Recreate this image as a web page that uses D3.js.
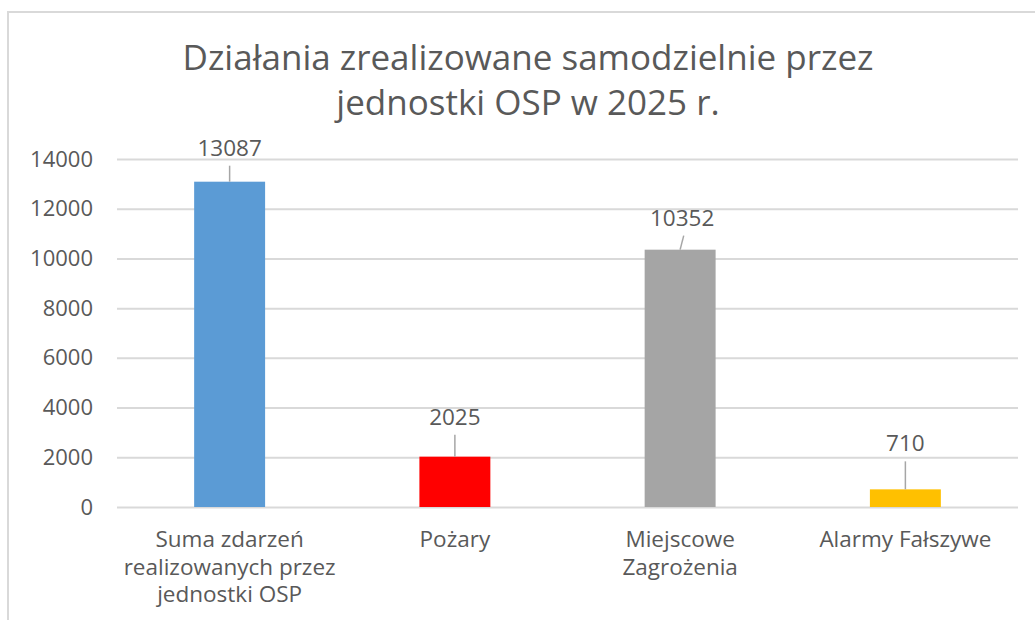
<!DOCTYPE html>
<html>
<head>
<meta charset="utf-8">
<script src="https://cdn.jsdelivr.net/npm/d3@7"></script>
<style>
    html, body { margin: 0; padding: 0; background: #fff; }
    #chart { width: 1035px; height: 620px; }
    text { font-family: "Open Sans", Lato, sans-serif; fill: #595959; }
</style>
</head>
<body>
<div id="chart"></div>
<script>
//Datos
const categorias = ['Suma zdarzeń realizowanych przez jednostki OSP', 'Pożary', 'Miejscowe Zagrożenia', 'Alarmy Fałszywe'];
const etiquetasEje = [['Suma zdarzeń', 'realizowanych przez', 'jednostki OSP'], ['Pożary'], ['Miejscowe', 'Zagrożenia'], ['Alarmy Fałszywe']];
const valores = [13087, 2025, 10352, 710];
const ticksY = [0, 2000, 4000, 6000, 8000, 10000, 12000, 14000];
const titulo = ['Działania zrealizowane samodzielnie przez', 'jednostki OSP w 2025 r.'];

const COLORES = ['#5B9BD5', '#FF0000', '#A5A5A5', '#FFC000'];
const FUENTE = '"Open Sans", Lato, sans-serif';
//Posición de las etiquetas (px sobre la barra) y desplazamiento horizontal
const subidaEtiqueta = [26, 32, 24, 38];
const desvioEtiqueta = [0, 0, 4, 0];

let margin = {top: 159, right: 17, bottom: 113, left: 117},
    width = 1035 - margin.left - margin.right,
    height = 620 - margin.top - margin.bottom;

let root = d3.select('#chart')
    .append('svg')
    .attr('width', 1035)
    .attr('height', 620);

//Marco
root.append('rect')
    .attr('x', 8).attr('y', 12)
    .attr('width', 1060).attr('height', 640)
    .attr('fill', 'none')
    .attr('stroke', '#D9D9D9')
    .attr('stroke-width', 2);

//Título
root.append('text')
    .attr('text-anchor', 'middle')
    .attr('font-size', 35)
    .selectAll('tspan')
    .data(titulo)
    .enter()
    .append('tspan')
    .attr('x', 528)
    .attr('y', function(d, i) { return 70 + i * 45; })
    .text(function(d) { return d; });

let svg = root.append('g')
    .attr('transform', 'translate(' + margin.left + ',' + margin.top + ')');

//Eje Y
let y = d3.scaleLinear()
    .domain([0, 14000])
    .range([height, 0]);

let yAxis = function(g) {
    g.call(d3.axisLeft(y).tickValues(ticksY).tickFormat(d3.format('d')).tickSize(-width).tickPadding(24));
    g.select('.domain').remove();
    g.selectAll('.tick line').attr('stroke', '#D9D9D9').attr('stroke-width', 2);
    g.selectAll('.tick text').attr('font-size', 22).attr('fill', '#595959').attr('font-family', FUENTE);
};

svg.append('g')
    .attr('class', 'yaxis')
    .call(yAxis);

//Eje X
let x = d3.scaleBand()
    .domain(categorias)
    .range([0, width])
    .paddingInner(0.685)
    .paddingOuter(0.3425);

let xAxis = function(g) {
    g.call(d3.axisBottom(x).tickSize(0).tickFormat(''));
    g.select('.domain').remove();
    g.selectAll('.tick').each(function(d, i) {
        let t = d3.select(this).append('text')
            .attr('text-anchor', 'middle')
            .attr('font-size', 22.5)
            .attr('fill', '#595959');
        t.selectAll('tspan')
            .data(etiquetasEje[i])
            .enter()
            .append('tspan')
            .attr('x', 0)
            .attr('y', function(l, j) { return 40 + j * 27.5; })
            .text(function(l) { return l; });
    });
};

svg.append('g')
    .attr('transform', 'translate(0,' + height + ')')
    .call(xAxis);

//Barras
svg.append('g')
    .selectAll('rect')
    .data(valores)
    .enter()
    .append('rect')
    .attr('x', function(d, i) { return x(categorias[i]); })
    .attr('y', function(d) { return y(d); })
    .attr('width', x.bandwidth())
    .attr('height', function(d) { return height - y(d); })
    .attr('fill', function(d, i) { return COLORES[i]; });

//Líneas guía y etiquetas
let etiquetas = svg.append('g');

valores.forEach(function(d, i) {
    let cx = x(categorias[i]) + x.bandwidth() / 2;
    let top = y(d);
    let base = top - subidaEtiqueta[i];
    etiquetas.append('line')
        .attr('x1', cx + desvioEtiqueta[i] * 0.9)
        .attr('y1', base + 10)
        .attr('x2', cx)
        .attr('y2', top)
        .attr('stroke', '#A6A6A6')
        .attr('stroke-width', 1.5);
    etiquetas.append('text')
        .attr('x', cx + desvioEtiqueta[i] / 2)
        .attr('y', base)
        .attr('text-anchor', 'middle')
        .attr('font-size', 22.5)
        .text(d);
});
</script>
</body>
</html>
